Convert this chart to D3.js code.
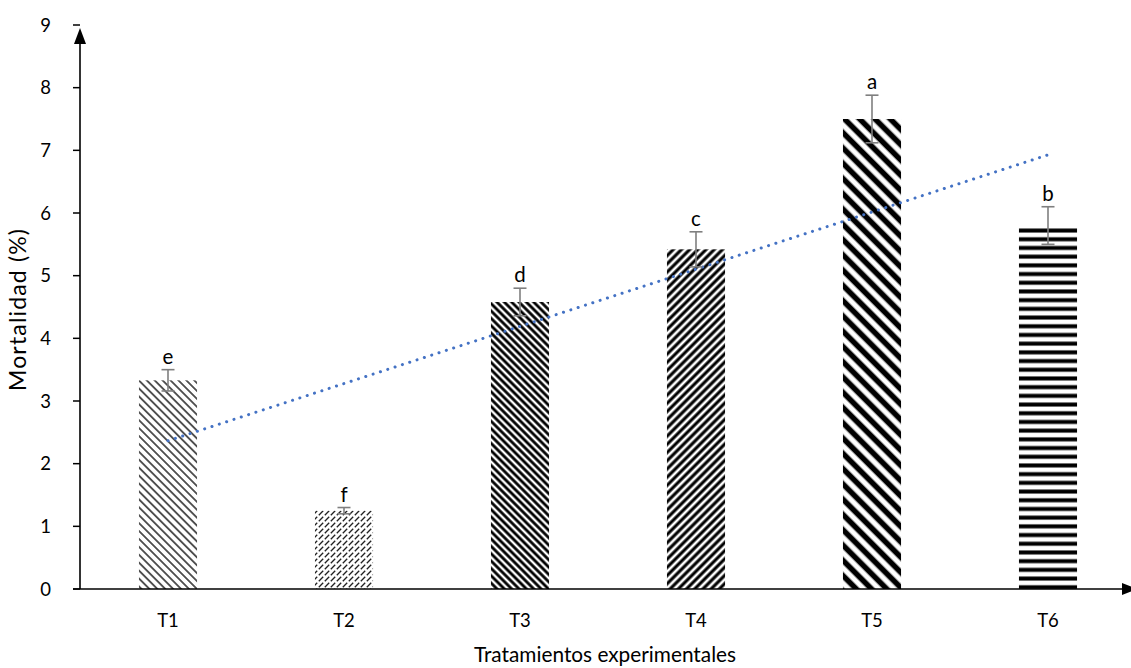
<!DOCTYPE html>
<html>
<head>
<meta charset="utf-8">
<script src="https://cdn.jsdelivr.net/npm/d3@7/dist/d3.min.js"></script>
<style>
  html, body { margin: 0; padding: 0; background: #fff; }
  svg { display: block; }
  text { font-family: Lato, "Open Sans", sans-serif; fill: #000; }
</style>
</head>
<body>
<svg id="chart" width="1131" height="668"></svg>
<script>
// Treatments, mean mortality (%), error half-width and significance letters
const categories = ["T1", "T2", "T3", "T4", "T5", "T6"];
const values = [3.33, 1.25, 4.58, 5.42, 7.5, 5.8];
const errors = [0.17, 0.05, 0.22, 0.28, 0.38, 0.3];
const letters = ["e", "f", "d", "c", "a", "b"];
const yTicks = [0, 1, 2, 3, 4, 5, 6, 7, 8, 9];

const svg = d3.select("#chart");
const W = 1131, H = 668;
const x0 = 80, y0 = 589, yTop = 25;

const x = d3.scaleBand()
  .domain(categories)
  .range([x0, x0 + 6 * 176])
  .paddingInner(0.67)
  .paddingOuter(0.335);

const y = d3.scaleLinear().domain([0, 9]).range([y0, yTop]);

// Fill patterns, one per treatment
const defs = svg.append("defs");
function stripes(id, period, thick, angle, color) {
  const p = defs.append("pattern")
    .attr("id", id)
    .attr("patternUnits", "userSpaceOnUse")
    .attr("width", period)
    .attr("height", period)
    .attr("patternTransform", `rotate(${angle})`);
  p.append("line")
    .attr("x1", 0).attr("x2", period)
    .attr("y1", period / 2).attr("y2", period / 2)
    .attr("stroke", color)
    .attr("stroke-width", thick);
}
stripes("p1", 5.6, 1.5, 45, "#222");
// dashed upward diagonal: short "/" strokes in a 6x6 tile
const p2 = defs.append("pattern")
  .attr("id", "p2")
  .attr("patternUnits", "userSpaceOnUse")
  .attr("width", 6).attr("height", 6);
p2.append("line")
  .attr("x1", 0.8).attr("y1", 5.2).attr("x2", 5.2).attr("y2", 0.8)
  .attr("stroke", "#222").attr("stroke-width", 1.3);
stripes("p3", 5.2, 2.8, 45, "#000");
stripes("p4", 5.8, 3.1, -45, "#000");
stripes("p5", 10.8, 5.6, 45, "#000");
stripes("p6", 8.7, 4, 0, "#000");
const fills = ["url(#p1)", "url(#p2)", "url(#p3)", "url(#p4)", "url(#p5)", "url(#p6)"];

// Y axis tick labels and ticks
const yAxis = svg.append("g");
yAxis.selectAll("line.tick").data(yTicks).enter().append("line")
  .attr("x1", x0 - 7).attr("x2", x0)
  .attr("y1", d => y(d)).attr("y2", d => y(d))
  .attr("stroke", "#000").attr("stroke-width", 1.5);
yAxis.selectAll("text").data(yTicks).enter().append("text")
  .attr("x", 51).attr("y", d => y(d))
  .attr("dy", "0.36em")
  .attr("text-anchor", "end")
  .attr("font-size", 18.5)
  .text(d => d);

// Bars
const data = categories.map((c, i) => ({ c, v: values[i], e: errors[i], l: letters[i], f: fills[i] }));
svg.append("g").selectAll("rect").data(data).enter().append("rect")
  .attr("x", d => x(d.c))
  .attr("y", d => y(d.v))
  .attr("width", x.bandwidth())
  .attr("height", d => y(0) - y(d.v))
  .attr("fill", d => d.f);

// Linear trend line through the treatment means
const n = values.length;
const xs = d3.range(1, n + 1);
const mx = d3.mean(xs), my = d3.mean(values);
const slope = d3.sum(xs, (xi, i) => (xi - mx) * (values[i] - my)) / d3.sum(xs, xi => (xi - mx) ** 2);
const icpt = my - slope * mx;
const cx = c => x(c) + x.bandwidth() / 2;
svg.append("line")
  .attr("x1", cx(categories[0])).attr("y1", y(icpt + slope * 1))
  .attr("x2", cx(categories[n - 1])).attr("y2", y(icpt + slope * n))
  .attr("stroke", "#4472C4")
  .attr("stroke-width", 3)
  .attr("stroke-linecap", "round")
  .attr("stroke-dasharray", "0.1 7.6");

// Error bars
const eb = svg.append("g").attr("stroke", "#7f7f7f").attr("stroke-width", 1.6);
data.forEach(d => {
  const c = cx(d.c);
  eb.append("line").attr("x1", c).attr("x2", c).attr("y1", y(d.v - d.e)).attr("y2", y(d.v + d.e));
  eb.append("line").attr("x1", c - 6.5).attr("x2", c + 6.5).attr("y1", y(d.v - d.e)).attr("y2", y(d.v - d.e));
  eb.append("line").attr("x1", c - 6.5).attr("x2", c + 6.5).attr("y1", y(d.v + d.e)).attr("y2", y(d.v + d.e));
});

// Significance letters
svg.append("g").selectAll("text").data(data).enter().append("text")
  .attr("x", d => cx(d.c))
  .attr("y", d => y(d.v + d.e) - 6)
  .attr("text-anchor", "middle")
  .attr("font-size", 20.5)
  .text(d => d.l);

// Axes with arrowheads
svg.append("line")
  .attr("x1", x0 - 7).attr("x2", W).attr("y1", y0).attr("y2", y0)
  .attr("stroke", "#000").attr("stroke-width", 1.6);
svg.append("path")
  .attr("d", `M${W - 9},${y0 - 6}L${W + 6},${y0}L${W - 9},${y0 + 6}Z`)
  .attr("fill", "#000");
svg.append("line")
  .attr("x1", x0).attr("x2", x0).attr("y1", y0).attr("y2", yTop + 10)
  .attr("stroke", "#000").attr("stroke-width", 1.6);
svg.append("path")
  .attr("d", `M${x0 - 6},${yTop + 19}L${x0},${yTop + 3}L${x0 + 6},${yTop + 19}Z`)
  .attr("fill", "#000");

// Category labels
svg.append("g").selectAll("text").data(categories).enter().append("text")
  .attr("x", d => cx(d))
  .attr("y", 627)
  .attr("text-anchor", "middle")
  .attr("font-size", 18.5)
  .text(d => d);

// Axis titles
svg.append("text")
  .attr("x", 605).attr("y", 662)
  .attr("text-anchor", "middle")
  .attr("font-size", 20.8)
  .text("Tratamientos experimentales");
svg.append("text")
  .attr("transform", "translate(26,310) rotate(-90)")
  .attr("text-anchor", "middle")
  .attr("font-size", 23)
  .attr("textLength", 162)
  .attr("lengthAdjust", "spacing")
  .text("Mortalidad (%)");
</script>
</body>
</html>
